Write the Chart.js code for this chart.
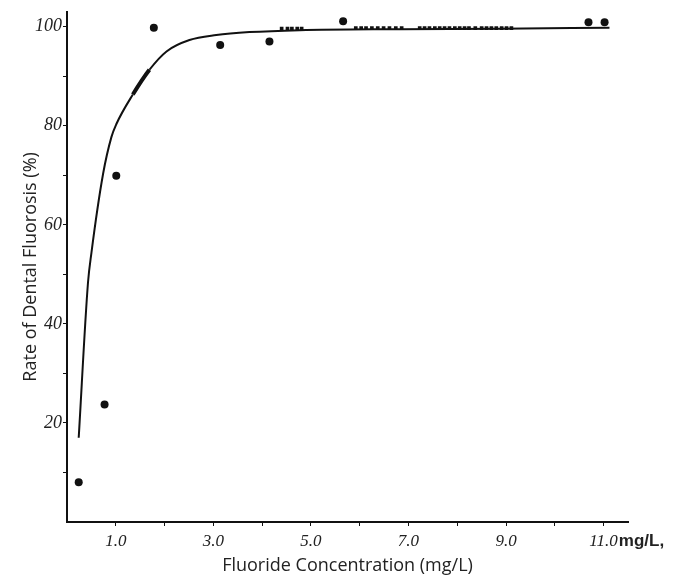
<!DOCTYPE html>
<html>
<head>
<meta charset="utf-8">
<script src="https://cdn.jsdelivr.net/npm/chart.js@4.4.1/dist/chart.umd.min.js"></script>
<style>
  html, body { margin: 0; padding: 0; background: #fff; }
  #wrap { width: 699px; height: 579px; }
</style>
</head>
<body>
<div id="wrap"><canvas id="fluorosisChart" width="699" height="579"></canvas></div>
<script>
// Valores
const curveX = [0.24, 0.43, 0.50, 0.74, 0.91, 1.01, 1.35, 1.69, 2.04, 2.51, 3.06, 3.74, 4.77, 6.82, 8.87, 11.12];
const curveY = [17.0, 48.3, 54.3, 70.3, 77.7, 80.3, 86.3, 91.3, 95.0, 97.3, 98.3, 98.9, 99.3, 99.5, 99.6, 99.8];

const dotX = [0.24, 0.77, 1.01, 1.78, 3.14, 4.15, 5.66, 10.69, 11.02];
const dotY = [8.0, 23.7, 69.9, 99.8, 96.3, 97.0, 101.1, 100.9, 100.9];

// puntos pequeños amontonados sobre la curva
const clusterX = [4.40, 4.52, 4.61, 4.72, 4.81, 5.92, 6.03, 6.13, 6.25, 6.37, 6.49, 6.61, 6.74, 6.86,
                  7.23, 7.33, 7.43, 7.54, 7.64, 7.74, 7.84, 7.95, 8.05, 8.15, 8.24, 8.37, 8.50, 8.60, 8.70, 8.80, 8.91, 9.01, 9.11];
const clusterY = [99.6, 99.6, 99.6, 99.6, 99.6, 99.7, 99.7, 99.7, 99.7, 99.7, 99.7, 99.7, 99.7, 99.7,
                  99.7, 99.7, 99.7, 99.7, 99.7, 99.7, 99.7, 99.7, 99.7, 99.7, 99.7, 99.7, 99.7, 99.7, 99.7, 99.7, 99.7, 99.7, 99.7];

const xTicks = [1, 2, 3, 4, 5, 6, 7, 8, 9, 10, 11];
const xTickLabels = { 1: '1.0', 3: '3.0', 5: '5.0', 7: '7.0', 9: '9.0', 11: '11.0' };
const yTicks = [10, 20, 30, 40, 50, 60, 70, 80, 90, 100];
const yTickLabels = { 20: '20', 40: '40', 60: '60', 80: '80', 100: '100' };

const xTitle = 'Fluoride Concentration (mg/L)';
const yTitle = 'Rate of Dental Fluorosis (%)';
const unitText = 'mg/L,';

const ink = '#111';

function toPoints(xs, ys) {
    return xs.map((x, i) => ({ x: x, y: ys[i] }));
}

// Texto de unidad junto a la última etiqueta del eje x
const unitPlugin = {
    id: 'unitLabel',
    afterDraw(chart) {
        const xScale = chart.scales.x;
        const ctx = chart.ctx;
        ctx.save();
        ctx.font = 'italic 17px "Liberation Serif"';
        const w = ctx.measureText(xTickLabels[11]).width;
        const px = xScale.getPixelForValue(11) + w / 2 + 1;
        ctx.font = 'bold 17px "Liberation Sans"';
        ctx.fillStyle = '#222';
        ctx.textAlign = 'left';
        ctx.textBaseline = 'middle';
        ctx.fillText(unitText, px, 541);
        ctx.restore();
    }
};

document.addEventListener('DOMContentLoaded', function () {
    let el = document.getElementById('fluorosisChart');
    if (!el) return;

    let data = {
        datasets: [
            {
                label: 'curve',
                type: 'line',
                data: toPoints(curveX, curveY),
                borderColor: ink,
                borderWidth: 2,
                pointRadius: 0,
                fill: false,
                cubicInterpolationMode: 'monotone',
                segment: {
                    borderWidth: c => (c.p0.parsed.x >= 1.3 && c.p1.parsed.x <= 1.7) ? 4 : 2
                }
            },
            {
                label: 'points',
                type: 'scatter',
                data: toPoints(dotX, dotY),
                backgroundColor: ink,
                borderColor: ink,
                pointRadius: 4,
                borderWidth: 0
            },
            {
                label: 'cluster',
                type: 'scatter',
                data: toPoints(clusterX, clusterY),
                backgroundColor: ink,
                borderColor: ink,
                pointStyle: 'rect',
                pointRadius: 2.6,
                borderWidth: 0
            }
        ]
    };

    let options = {
        responsive: false,
        animation: false,
        layout: { padding: { left: 18, right: 71, top: 7, bottom: 0 } },
        plugins: {
            legend: { display: false },
            tooltip: { enabled: false }
        },
        scales: {
            x: {
                type: 'linear',
                min: 0,
                max: 11.5,
                afterBuildTicks: s => { s.ticks = xTicks.map(v => ({ value: v })); },
                afterFit: s => { s.height = 57; },
                ticks: {
                    autoSkip: false,
                    maxRotation: 0,
                    padding: 5,
                    color: '#222',
                    font: { family: 'Liberation Serif', style: 'italic', size: 17 },
                    callback: v => xTickLabels[v] || ''
                },
                grid: { drawOnChartArea: false, drawTicks: true, tickLength: 4, color: ink, lineWidth: 1 },
                border: { display: true, color: ink, width: 2 },
                title: {
                    display: true,
                    text: xTitle,
                    color: '#222',
                    font: { family: 'Open Sans', size: 18 },
                    padding: { top: 2, bottom: 2 }
                }
            },
            y: {
                type: 'linear',
                min: 0,
                max: 103,
                afterBuildTicks: s => { s.ticks = yTicks.map(v => ({ value: v })); },
                afterFit: s => { s.width = 49; },
                ticks: {
                    autoSkip: false,
                    padding: 1,
                    color: '#222',
                    font: { family: 'Liberation Serif', style: 'italic', size: 18 },
                    callback: v => yTickLabels[v] || ''
                },
                grid: { drawOnChartArea: false, drawTicks: true, tickLength: 4, color: ink, lineWidth: 1 },
                border: { display: true, color: ink, width: 2 },
                title: {
                    display: true,
                    text: yTitle,
                    color: '#222',
                    font: { family: 'Open Sans', size: 18 },
                    padding: { top: 2, bottom: 2 }
                }
            }
        }
    };

    let chart = new Chart(el.getContext('2d'), {
        type: 'scatter',
        data: data,
        options: options,
        plugins: [unitPlugin]
    });
});
</script>
</body>
</html>
